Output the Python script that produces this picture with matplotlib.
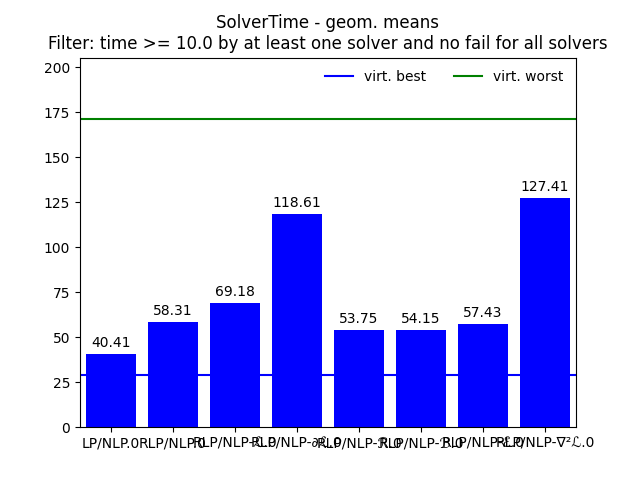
import numpy as np
import matplotlib
matplotlib.use("Agg")
import matplotlib.pyplot as plt

solvers = ["LP/NLP.0", "RLP/NLP.0", "RLP/NLP-ℒ.0", "RLP/NLP-∂ℒ.0",
           "RLP/NLP-ℛ.0", "RLP/NLP-ℬ.0", "RLP/NLP-ℰ.0", "RLP/NLP-∇²ℒ.0"]
times = [40.41, 58.31, 69.18, 118.61, 53.75, 54.15, 57.43, 127.41]
virt_best = 28.9
virt_worst = 171.1

fig, ax = plt.subplots(figsize=(6.4, 4.8), dpi=100)
x = np.arange(len(solvers))
bars = ax.bar(x, times, color="blue")
ax.bar_label(bars, fmt="%.2f", padding=3)
ax.axhline(virt_best, color="blue", label="virt. best")
ax.axhline(virt_worst, color="green", label="virt. worst")
ax.set_xticks(x)
ax.set_xticklabels(solvers)
ax.set_xlim(-0.5, len(solvers) - 0.5)
ax.set_ylim(0, virt_worst * 1.2)
ax.legend(loc="upper right", ncol=2, frameon=False)
ax.set_title("SolverTime - geom. means\n"
             "Filter: time >= 10.0 by at least one solver and no fail for all solvers")
fig.savefig("out.png")
